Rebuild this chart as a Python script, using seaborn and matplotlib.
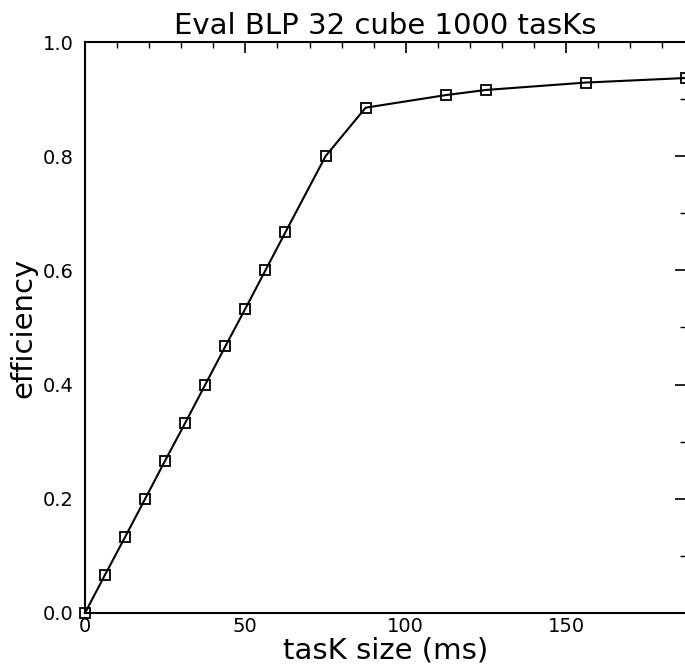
import matplotlib
matplotlib.use("Agg")
import matplotlib.pyplot as plt
import seaborn as sns
import pandas as pd
from matplotlib.ticker import MultipleLocator

task_size = [0, 6.25, 12.5, 18.75, 25, 31.25, 37.5, 43.75, 50, 56.25, 62.5,
             75, 87.5, 112.5, 125, 156.25, 187.5]
efficiency = [0.0, 0.067, 0.133, 0.2, 0.267, 0.333, 0.4, 0.467, 0.533, 0.6,
              0.667, 0.8, 0.885, 0.907, 0.916, 0.929, 0.937]
x_ticks = [0, 50, 100, 150]
y_ticks = [0.0, 0.2, 0.4, 0.6, 0.8, 1.0]
title = "Eval BLP 32 cube 1000 tasKs"
x_label = "tasK size (ms)"
y_label = "efficiency"

sns.set_style("white")
plt.rcParams['font.family'] = ['DejaVu Sans']
plt.rcParams['text.color'] = 'black'
plt.rcParams['axes.labelcolor'] = 'black'

df = pd.DataFrame({"task": task_size, "eff": efficiency})

fig = plt.figure(figsize=(6.85, 6.68), dpi=100)
ax = fig.add_axes([85/685, 1-613/668, 1.0 - 85/685 + 0.002, (613-42)/668])

sns.lineplot(data=df, x="task", y="eff", ax=ax, color="black", linewidth=1.5,
             marker="s", markersize=7, markerfacecolor="none",
             markeredgecolor="black", markeredgewidth=1.3, clip_on=False)

ax.set_xlim(0, 187.5)
ax.set_ylim(0, 1.0)
ax.set_xticks(x_ticks)
ax.set_xticklabels([str(t) for t in x_ticks])
ax.set_yticks(y_ticks)
ax.set_yticklabels([f"{t:.1f}" for t in y_ticks])
ax.xaxis.set_minor_locator(MultipleLocator(10))
ax.yaxis.set_minor_locator(MultipleLocator(0.1))
ax.tick_params(which="both", direction="in", top=True, right=True,
               labelsize=14, colors="black")
ax.tick_params(axis="y", pad=8)
ax.tick_params(axis="x", pad=3)
ax.tick_params(which="major", length=8, width=1.2)
ax.tick_params(which="minor", length=4, width=1.0)
for s in ax.spines.values():
    s.set_color("black")
    s.set_linewidth(1.5)

ax.set_title(title, fontsize=21, pad=6, color="black")
ax.set_xlabel(x_label, fontsize=21, labelpad=0)
ax.set_ylabel(y_label, fontsize=21, labelpad=4)

fig.savefig("out.png", dpi=100)
